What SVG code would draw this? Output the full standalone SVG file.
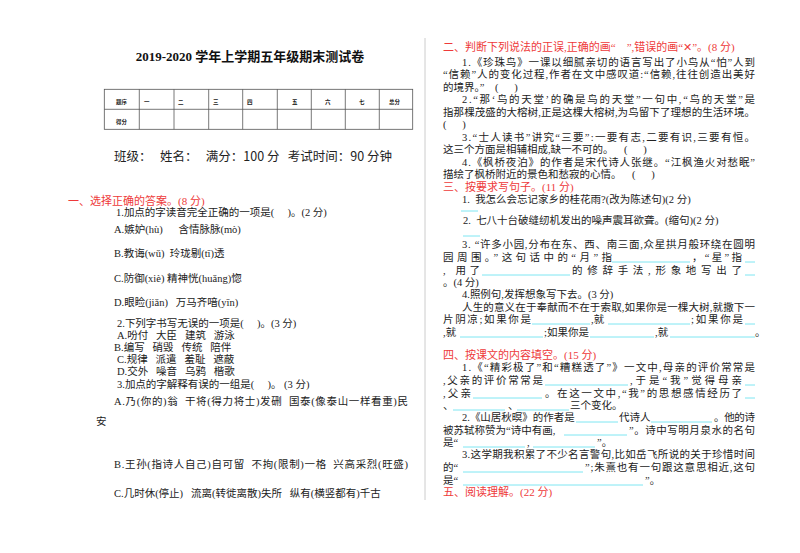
<svg xmlns="http://www.w3.org/2000/svg" width="800" height="553" viewBox="0 0 800 553" xml:space="preserve">
<style>
text{font-family:"Liberation Serif","Noto Sans CJK SC",serif;font-size:10.5px;fill:#222;white-space:pre}
.r{fill:#ee3a3a;font-size:11px}
.t{font-size:13px;font-weight:bold;fill:#111}
.s{font-family:"Noto Sans CJK SC",sans-serif;font-size:12.5px}
.h{font-size:5.5px;font-weight:bold}
.u{stroke:#7ee6f2;stroke-width:1}
.g{stroke:#555;stroke-width:0.8;fill:none}
</style>
<rect width="800" height="553" fill="#fff"/>
<line x1="425" y1="38" x2="425" y2="500" stroke="#ccc" stroke-width="1"/>
<g id="header">
<text x="250" y="61" class="t" text-anchor="middle">2019-2020 学年上学期五年级期末测试卷</text>
<rect x="104.3" y="89.3" width="308.4" height="40" class="g"/>
<line x1="104.3" y1="109.3" x2="412.7" y2="109.3" class="g"/>
<path class="g" d="M139.3 89.3V129.3M174 89.3V129.3M208.7 89.3V129.3M242.7 89.3V129.3M277.3 89.3V129.3M311.3 89.3V129.3M345.3 89.3V129.3M379.3 89.3V129.3"/>
<text x="116" y="104" class="h">题序</text><text x="144" y="104" class="h">一</text><text x="178" y="104" class="h">二</text><text x="213" y="104" class="h">三</text><text x="247" y="104" class="h">四</text><text x="292" y="104" class="h">五</text><text x="325" y="104" class="h">六</text><text x="359" y="104" class="h">七</text><text x="389" y="104" class="h">总分</text>
<text x="116" y="124" class="h">得分</text>
<text x="114" y="161" class="s">班级：   姓名：   满分：100 分   考试时间：90 分钟</text>
</g>
<g id="left">
<text x="68" y="205" class="r">一、选择正确的答案。(8 分)</text>
<text x="116" y="216">1.加点的字读音完全正确的一项是(     )。(2 分)</text>
<text x="114" y="233">A.嫉妒(hù)      含情脉脉(mò)</text>
<text x="114" y="257">B.教诲(wǔ)  玲珑剔(tī)透</text>
<text x="114" y="282">C.防御(xiè) 精神恍(huǎng)惚</text>
<text x="114" y="306">D.眼睑(jiǎn)   万马齐喑(yīn)</text>
<text x="117" y="327">2.下列字书写无误的一项是(     )。(3 分)</text>
<text x="117" y="339">A.吩付   大臣   建筑   游泳</text>
<text x="114" y="351">B.编写   硝毁   传统   陪伴</text>
<text x="117" y="363">C.规律   派遣   羞耻   遮蔽</text>
<text x="117" y="375">D.交外   噪音   乌鸦   楷歌</text>
<text x="117" y="388">3.加点的字解释有误的一组是(     )。 (3 分)</text>
<text x="114" y="405" textLength="294" lengthAdjust="spacing">A.乃(你的)翁  干将(得力将士)发硎  国泰(像泰山一样看重)民</text>
<text x="96" y="425">安</text>
<text x="114" y="468" textLength="294" lengthAdjust="spacing">B.王孙(指诗人自己)自可留  不拘(限制)一格  兴高采烈(旺盛)</text>
<text x="114" y="497">C.几时休(停止)   流离(转徙离散)失所   纵有(横竖都有)千古</text>
</g>
<g id="right">
<text x="443" y="51" class="r">二、判断下列说法的正误,正确的画“    ”,错误的画“✕”。(8 分)</text>
<text x="462" y="66" textLength="293" lengthAdjust="spacing">1.《珍珠鸟》一课以细腻亲切的语言写出了小鸟从“怕”人到</text>
<text x="443" y="78" textLength="312" lengthAdjust="spacing">“信赖”人的变化过程,作者在文中感叹道:“信赖,往往创造出美好</text>
<text x="443" y="91">的境界。”    (      )</text>
<text x="462" y="103" textLength="293" lengthAdjust="spacing">2.“那‘鸟的天堂’的确是鸟的天堂”一句中,“鸟的天堂”是</text>
<text x="443" y="116" textLength="312" lengthAdjust="spacing">指那棵茂盛的大榕树,正是这棵大榕树,为鸟留下了理想的生活环境。</text>
<text x="443" y="128">(      )</text>
<text x="462" y="141" textLength="293" lengthAdjust="spacing">3.“士人读书”讲究“三要”:一要有志,二要有识,三要有恒。</text>
<text x="443" y="153">这三个方面是相辅相成,缺一不可的。    (      )</text>
<text x="462" y="166" textLength="293" lengthAdjust="spacing">4.《枫桥夜泊》的作者是宋代诗人张继。“江枫渔火对愁眠”</text>
<text x="443" y="178">描绘了枫桥附近的景色和愁寂的心情。    (      )</text>
<text x="443" y="191" class="r">三、按要求写句子。(11 分)</text>
<text x="462" y="203">1.  我怎么会忘记家乡的桂花雨?(改为陈述句)(2 分)</text>
<line x1="461" y1="211" x2="478" y2="211" class="u"/>
<text x="463" y="224">2.  七八十台破缝纫机发出的噪声震耳欲聋。(缩句)(2 分)</text>
<line x1="463" y1="236" x2="480" y2="236" class="u"/>
<text x="462" y="248" textLength="293" lengthAdjust="spacing">3. “许多小园,分布在东、西、南三面,众星拱月般环绕在圆明</text>
<text x="443" y="261" textLength="169" lengthAdjust="spacing">园周围。”这句话中的“月”指</text>
<line x1="612" y1="262" x2="690" y2="262" class="u"/>
<text x="692" y="261" textLength="50" lengthAdjust="spacing">，“星”指</text>
<line x1="745" y1="262" x2="755" y2="262" class="u"/>
<text x="443" y="274" textLength="37" lengthAdjust="spacing">, 用了</text>
<line x1="482" y1="275" x2="570" y2="275" class="u"/>
<text x="572" y="274" textLength="170" lengthAdjust="spacing">的修辞手法,形象地写出了</text>
<line x1="745" y1="275" x2="755" y2="275" class="u"/>
<text x="443" y="286">。(4 分)</text>
<text x="462" y="298">4.照例句,发挥想象写下去。(3 分)</text>
<text x="462" y="311" textLength="293" lengthAdjust="spacing">人生的意义在于奉献而不在于索取,如果你是一棵大树,就撒下一</text>
<text x="443" y="323" textLength="88" lengthAdjust="spacing">片阴凉;如果你是</text>
<line x1="532" y1="324" x2="590" y2="324" class="u"/>
<text x="591" y="323">,就</text>
<line x1="608" y1="324" x2="690" y2="324" class="u"/>
<text x="691" y="323" textLength="52" lengthAdjust="spacing">;如果你是</text>
<line x1="745" y1="324" x2="755" y2="324" class="u"/>
<text x="443" y="336">,就</text>
<line x1="460" y1="337" x2="543" y2="337" class="u"/>
<text x="544" y="336">;如果你是</text>
<line x1="590" y1="337" x2="654" y2="337" class="u"/>
<text x="655" y="336">,就</text>
<line x1="670" y1="337" x2="755" y2="337" class="u"/>
<text x="755" y="336">。</text>
<text x="443" y="359" class="r">四、按课文的内容填空。(15 分)</text>
<text x="462" y="371" textLength="293" lengthAdjust="spacing">1.《“精彩极了”和“糟糕透了”》一文中,母亲的评价常常是</text>
<text x="443" y="384" textLength="100" lengthAdjust="spacing">,父亲的评价常常是</text>
<line x1="545" y1="385" x2="628" y2="385" class="u"/>
<text x="630" y="384" textLength="112" lengthAdjust="spacing">,于是“我”觉得母亲</text>
<line x1="745" y1="385" x2="755" y2="385" class="u"/>
<text x="443" y="397" textLength="28" lengthAdjust="spacing">,父亲</text>
<line x1="473" y1="398" x2="542" y2="398" class="u"/>
<text x="545" y="397" textLength="197" lengthAdjust="spacing">。在这一文中,“我”的思想感情经历了</text>
<line x1="745" y1="398" x2="755" y2="398" class="u"/>
<text x="443" y="409">、</text>
<line x1="453" y1="410" x2="505" y2="410" class="u"/>
<text x="508" y="409">、</text>
<line x1="517" y1="410" x2="569" y2="410" class="u"/>
<text x="570" y="409">三个变化。</text>
<text x="462" y="421">2.《山居秋暝》的作者是</text>
<line x1="576" y1="422" x2="618" y2="422" class="u"/>
<text x="619" y="421">代诗人</text>
<line x1="651" y1="422" x2="712" y2="422" class="u"/>
<text x="714" y="421" textLength="41" lengthAdjust="spacing">。他的诗</text>
<text x="443" y="434">被苏轼称赞为“诗中有画,</text>
<line x1="564" y1="435" x2="627" y2="435" class="u"/>
<text x="629" y="434" textLength="126" lengthAdjust="spacing">”。诗中写明月泉水的名句</text>
<text x="443" y="446">是“</text>
<line x1="463" y1="447" x2="525" y2="447" class="u"/>
<text x="527" y="446">,</text>
<line x1="533" y1="447" x2="595" y2="447" class="u"/>
<text x="597" y="446">”。</text>
<text x="462" y="458" textLength="293" lengthAdjust="spacing">3.这学期我积累了不少名言警句,比如岳飞所说的关于珍惜时间</text>
<text x="443" y="471">的“</text>
<line x1="463" y1="472" x2="583" y2="472" class="u"/>
<text x="585" y="471" textLength="170" lengthAdjust="spacing">”;朱熹也有一句跟这意思相近,这句</text>
<text x="443" y="484">是“</text>
<line x1="463" y1="485" x2="643" y2="485" class="u"/>
<text x="645" y="484">”。</text>
<text x="443" y="496" class="r">五、阅读理解。(22 分)</text>
</g>
</svg>
